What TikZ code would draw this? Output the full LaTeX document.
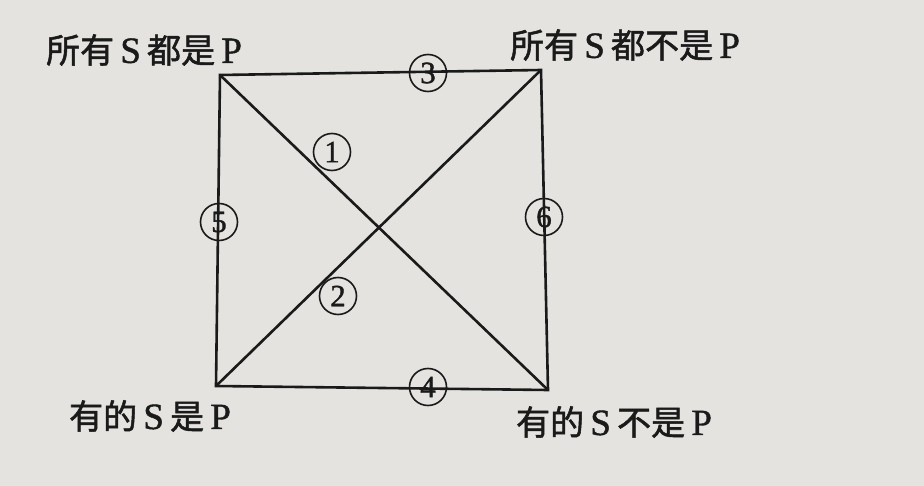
\documentclass[tikz,border=0pt]{standalone}
\usepackage{fontspec}
\setmainfont{Liberation Serif}
\newfontfamily\cjk{Noto Sans CJK SC}[FakeBold=1.5,Scale=0.92]
\newfontfamily\lat{Liberation Serif}[FakeBold=1.2]
\definecolor{paper}{HTML}{E4E3E0}
\definecolor{ink}{HTML}{1A1A1A}
\begin{document}
\begin{tikzpicture}[x=1pt,y=-1pt,
  lbl/.style={inner sep=0pt,text=ink,font=\lat\fontsize{37}{40}\selectfont},
  cnum/.style={circle,draw=ink,line width=1.6pt,minimum size=37pt,inner sep=0pt,text=ink,font=\lat\fontsize{31}{34}\selectfont},
  edge/.style={draw=ink,line width=2.6pt,line cap=round,line join=miter}]
\fill[paper] (0,0) rectangle (924,486);
\useasboundingbox (0,0) rectangle (924,486);
\coordinate (tl) at (220,75);
\coordinate (tr) at (541,70);
\coordinate (bl) at (216,386);
\coordinate (br) at (548,390);
\path[edge] (tl) -- (tr) -- (br) -- (bl) -- cycle;
\path[edge] (tl) -- (br);
\path[edge] (tr) -- (bl);
\node[lbl] (A) at (144,50) {{\cjk 所有}\,S\,{\cjk 都是}\,P};
\node[lbl] (E) at (625,45) {{\cjk 所有}\,S\,{\cjk 都不是}\,P};
\node[lbl] (I) at (150,416) {{\cjk 有的}\,S\,{\cjk 是}\,P};
\node[lbl] (O) at (614,422) {{\cjk 有的}\,S\,{\cjk 不是}\,P};
\node[cnum] (n1) at (332,152) {1};
\node[cnum] (n2) at (338,296) {2};
\node[cnum] (n3) at (428,73) {3};
\node[cnum] (n4) at (428,387) {4};
\node[cnum] (n5) at (219,222) {5};
\node[cnum] (n6) at (544,217) {6};
\end{tikzpicture}
\end{document}
